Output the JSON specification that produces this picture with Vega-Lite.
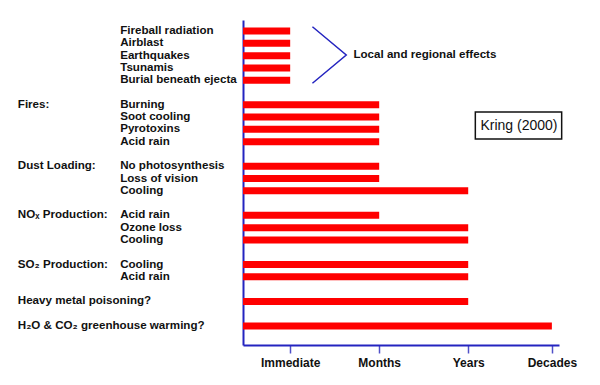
{
  "$schema": "https://vega.github.io/schema/vega-lite/v6.json",
  "autosize": {"type": "none"},
  "padding": {"left": 243, "top": 20, "right": 41, "bottom": 40},
  "width": 316,
  "height": 325,
  "background": "white",
  "config": {
    "view": {"stroke": null},
    "font": "Liberation Sans",
    "axisX": {"domainColor": "#2424c0", "domainWidth": 2, "tickColor": "#5050c8", "tickWidth": 1.5, "tickSize": 8, "labelFont": "Liberation Sans", "labelFontWeight": "bold", "labelFontSize": 12, "labelColor": "#111", "labelPadding": 4, "grid": false, "title": null},
    "axisY": {"domainColor": "#2424c0", "domainWidth": 2, "ticks": false, "labels": false, "grid": false, "title": null}
  },
  "datasets": {
    "effects": [
      {"label": "Fireball radiation", "row": 0, "dur": "Immediate", "t": 0.53},
      {"label": "Airblast", "row": 1, "dur": "Immediate", "t": 0.53},
      {"label": "Earthquakes", "row": 2, "dur": "Immediate", "t": 0.53},
      {"label": "Tsunamis", "row": 3, "dur": "Immediate", "t": 0.53},
      {"label": "Burial beneath ejecta", "row": 4, "dur": "Immediate", "t": 0.53},
      {"label": "Burning", "row": 6, "dur": "Months", "t": 1.53},
      {"label": "Soot cooling", "row": 7, "dur": "Months", "t": 1.53},
      {"label": "Pyrotoxins", "row": 8, "dur": "Months", "t": 1.53},
      {"label": "Acid rain", "row": 9, "dur": "Months", "t": 1.53},
      {"label": "No photosynthesis", "row": 11, "dur": "Months", "t": 1.53},
      {"label": "Loss of vision", "row": 12, "dur": "Months", "t": 1.53},
      {"label": "Cooling", "row": 13, "dur": "Years", "t": 2.53},
      {"label": "Acid rain", "row": 15, "dur": "Months", "t": 1.53},
      {"label": "Ozone loss", "row": 16, "dur": "Years", "t": 2.53},
      {"label": "Cooling", "row": 17, "dur": "Years", "t": 2.53},
      {"label": "Cooling", "row": 19, "dur": "Years", "t": 2.53},
      {"label": "Acid rain", "row": 20, "dur": "Years", "t": 2.53},
      {"label": "", "row": 22, "dur": "Years", "t": 2.53},
      {"label": "", "row": 24, "dur": "Decades", "t": 3.47}
    ],
    "groups": [
      {"group": "Fires:", "row": 6},
      {"group": "Dust Loading:", "row": 11},
      {"group": "NOₓ Production:", "row": 15},
      {"group": "SO₂ Production:", "row": 19},
      {"group": "Heavy metal poisoning?", "row": 22},
      {"group": "H₂O & CO₂  greenhouse warming?", "row": 24}
    ],
    "bracket": [
      {"bx": 0.78, "by": -0.35, "o": 0},
      {"bx": 1.16, "by": 1.95, "o": 1},
      {"bx": 0.78, "by": 4.25, "o": 2}
    ]
  },
  "layer": [
    {
      "data": {"name": "effects"},
      "mark": {"type": "bar", "orient": "horizontal", "color": "#ff0000", "height": 7},
      "encoding": {
        "y": {"field": "row", "type": "quantitative", "scale": {"domain": [-0.9, 25.55], "reverse": true, "nice": false, "zero": false, "padding": 0}},
        "x": {"field": "t", "type": "quantitative", "scale": {"domain": [0, 3.55], "nice": false, "zero": true, "padding": 0},
              "axis": {"values": [0.53, 1.53, 2.53, 3.47], "labelExpr": "datum.value < 1 ? 'Immediate' : datum.value < 2 ? 'Months' : datum.value < 3 ? 'Years' : 'Decades'"}}
      }
    },
    {
      "data": {"name": "effects"},
      "transform": [{"filter": "datum.label != ''"}],
      "mark": {"type": "text", "align": "left", "baseline": "middle", "font": "Liberation Sans", "fontWeight": "bold", "fontSize": 11.6, "color": "#111"},
      "encoding": {
        "y": {"field": "row", "type": "quantitative"},
        "x": {"datum": -1.38},
        "text": {"field": "label"}
      }
    },
    {
      "data": {"name": "groups"},
      "mark": {"type": "text", "align": "left", "baseline": "middle", "font": "Liberation Sans", "fontWeight": "bold", "fontSize": 11.6, "color": "#111"},
      "encoding": {
        "y": {"field": "row", "type": "quantitative"},
        "x": {"datum": -2.53},
        "text": {"field": "group"}
      }
    },
    {
      "data": {"name": "bracket"},
      "mark": {"type": "line", "color": "#2424c0", "strokeWidth": 1.5},
      "encoding": {
        "x": {"field": "bx", "type": "quantitative"},
        "y": {"field": "by", "type": "quantitative"},
        "order": {"field": "o"}
      }
    },
    {
      "data": {"values": [{"note": "Local and regional effects"}]},
      "mark": {"type": "text", "align": "left", "baseline": "middle", "font": "Liberation Sans", "fontWeight": "bold", "fontSize": 11.6, "color": "#111"},
      "encoding": {
        "x": {"datum": 1.24},
        "y": {"datum": 1.95},
        "text": {"field": "note"}
      }
    },
    {
      "data": {"values": [{"note": "Kring (2000)"}]},
      "mark": {"type": "rect", "fill": "white", "stroke": "#111", "strokeWidth": 1.5},
      "encoding": {
        "x": {"datum": 2.61},
        "x2": {"datum": 3.58},
        "y": {"datum": 6.59},
        "y2": {"datum": 8.79}
      }
    },
    {
      "data": {"values": [{"note": "Kring (2000)"}]},
      "mark": {"type": "text", "align": "center", "baseline": "middle", "font": "Liberation Sans", "fontSize": 14, "color": "#111"},
      "encoding": {
        "x": {"datum": 3.1},
        "y": {"datum": 7.73},
        "text": {"field": "note"}
      }
    }
  ]
}
